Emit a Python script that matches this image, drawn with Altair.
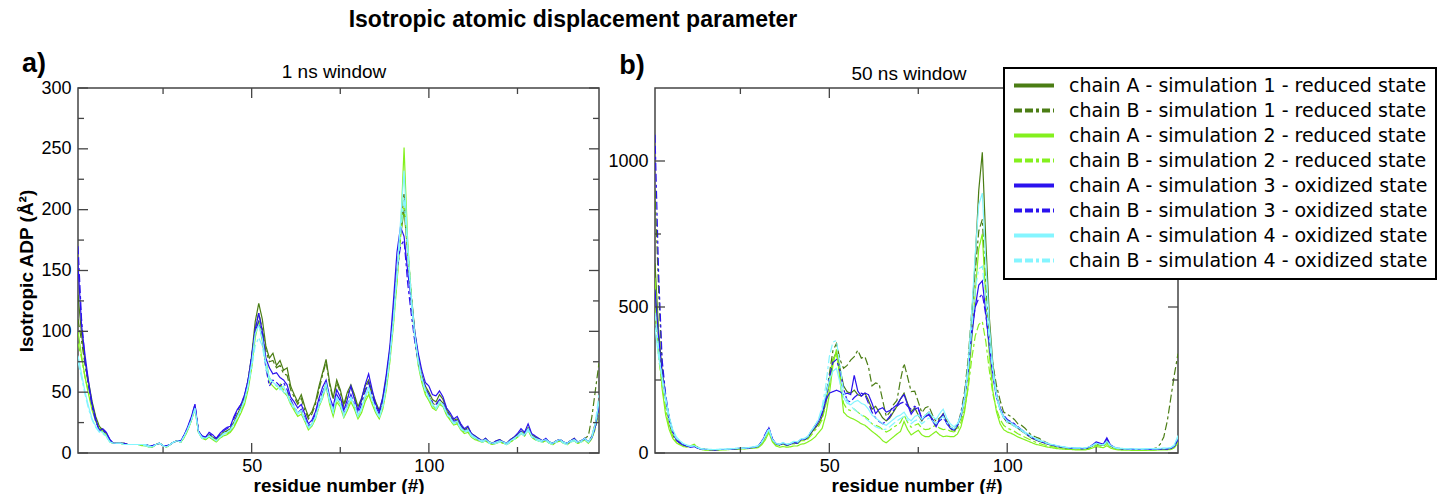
import altair as alt
import pandas as pd

residues = list(range(1, 149))
series_names = [
    "chain A - simulation 1 - reduced state",
    "chain B - simulation 1 - reduced state",
    "chain A - simulation 2 - reduced state",
    "chain B - simulation 2 - reduced state",
    "chain A - simulation 3 - oxidized state",
    "chain B - simulation 3 - oxidized state",
    "chain A - simulation 4 - oxidized state",
    "chain B - simulation 4 - oxidized state",
]
colors = ["#4b7d14", "#4b7d14", "#84f01e", "#84f01e", "#2b12ee", "#2b12ee", "#85f5ff", "#85f5ff"]
dash_solid = [1, 0]
dash_b = [8, 3, 8, 3, 3, 3]
dashes = [dash_solid, dash_b, dash_solid, dash_b, dash_solid, dash_b, dash_solid, dash_b]

# ---------------- panel a : 1 ns window ----------------
a_s1A = [130, 98, 75, 58, 42, 30, 22, 19, 16, 10,
         8, 8, 8, 8, 7, 7, 7, 7, 7, 7,
         6, 5, 7, 8, 6, 5, 7, 9, 10, 9,
         14, 20, 28, 38, 18, 13, 12, 15, 13, 11,
         14, 17, 18, 20, 25, 32, 38, 46, 60, 80,
         108, 123, 110, 88, 78, 82, 72, 76, 68, 70,
         55, 48, 42, 48, 38, 30, 34, 42, 55, 66,
         77, 58, 45, 60, 52, 40, 50, 56, 48, 38,
         45, 55, 60, 50, 42, 35, 45, 62, 85, 115,
         150, 178, 200, 165, 130, 100, 78, 64, 55, 50,
         44, 42, 48, 44, 36, 31, 27, 28, 23, 19,
         21, 16, 14, 12, 10, 12, 9, 8, 10, 11,
         9, 8, 11, 13, 15, 18, 16, 21, 15, 13,
         12, 10, 11, 9, 8, 10, 11, 9, 8, 10,
         12, 9, 10, 12, 9, 14, 25, 40]
a_s1B = [110, 92, 72, 55, 40, 28, 21, 19, 15, 10,
         8, 8, 8, 8, 7, 7, 7, 7, 7, 7,
         6, 5, 7, 8, 6, 5, 7, 9, 10, 9,
         14, 20, 27, 37, 17, 13, 12, 14, 12, 10,
         13, 16, 18, 20, 25, 31, 37, 45, 58, 78,
         102, 115, 102, 84, 75, 76, 70, 72, 65, 64,
         52, 46, 40, 45, 35, 28, 32, 40, 52, 64,
         75, 56, 44, 58, 50, 38, 48, 54, 46, 36,
         43, 52, 58, 48, 40, 33, 43, 60, 82, 112,
         148, 182, 214, 170, 132, 100, 76, 62, 53, 47,
         41, 39, 44, 41, 34, 29, 25, 26, 21, 18,
         19, 15, 13, 11, 10, 11, 9, 8, 9, 10,
         9, 8, 10, 12, 14, 17, 15, 20, 14, 12,
         11, 10, 11, 9, 8, 10, 11, 9, 8, 10,
         11, 9, 10, 12, 14, 30, 52, 74]
a_s2A = [100, 80, 62, 48, 35, 26, 20, 17, 14, 9,
         8, 8, 8, 7, 7, 7, 7, 7, 6, 6,
         5, 5, 7, 8, 6, 5, 7, 9, 10, 9,
         13, 19, 27, 36, 17, 12, 11, 13, 11, 9,
         12, 14, 15, 17, 21, 27, 33, 40, 52, 70,
         95, 108, 92, 72, 58, 55, 52, 55, 50, 47,
         40, 35, 30, 32, 26, 19, 22, 28, 38, 45,
         55, 40, 30, 42, 38, 29, 35, 42, 36, 28,
         33, 42, 48, 40, 33, 28, 36, 52, 75, 105,
         140, 180, 251, 175, 128, 95, 72, 58, 48, 43,
         37, 35, 40, 38, 31, 27, 23, 24, 19, 16,
         17, 13, 11, 10, 9, 10, 8, 7, 8, 9,
         8, 7, 9, 11, 13, 16, 14, 19, 13, 11,
         10, 9, 10, 8, 7, 9, 10, 8, 7, 9,
         10, 8, 9, 11, 8, 12, 22, 38]
a_s2B = [90, 78, 62, 50, 37, 27, 20, 18, 15, 9,
         8, 8, 8, 7, 7, 7, 7, 7, 6, 6,
         5, 5, 7, 8, 6, 5, 7, 9, 10, 9,
         13, 19, 27, 37, 17, 12, 11, 14, 12, 10,
         13, 15, 16, 18, 22, 28, 35, 42, 55, 72,
         98, 110, 96, 76, 62, 58, 55, 57, 52, 50,
         42, 37, 32, 34, 28, 21, 24, 30, 40, 48,
         58, 43, 33, 45, 40, 31, 38, 45, 38, 30,
         36, 45, 50, 42, 35, 30, 38, 55, 78, 108,
         142, 178, 205, 168, 128, 96, 74, 60, 50, 45,
         39, 36, 41, 39, 32, 28, 24, 25, 20, 17,
         18, 14, 12, 11, 9, 10, 8, 7, 8, 9,
         8, 7, 9, 11, 13, 16, 14, 19, 13, 11,
         10, 9, 10, 8, 7, 9, 10, 8, 7, 9,
         10, 8, 9, 11, 8, 12, 20, 34]
a_s3A = [155, 105, 80, 58, 40, 28, 18, 20, 17, 11,
         8, 8, 8, 8, 7, 7, 7, 7, 7, 7,
         6, 6, 7, 8, 6, 6, 7, 9, 10, 10,
         15, 22, 30, 40, 18, 14, 13, 17, 15, 12,
         16, 19, 21, 22, 30, 36, 40, 48, 60, 78,
         102, 115, 100, 78, 70, 65, 66, 62, 60, 56,
         46, 42, 37, 40, 32, 24, 27, 34, 45, 54,
         60, 46, 38, 52, 46, 35, 44, 55, 44, 35,
         44, 56, 65, 52, 40, 34, 46, 65, 88, 125,
         165, 186, 178, 150, 125, 100, 82, 68, 58, 55,
         48, 47, 51, 46, 37, 33, 28, 30, 24, 20,
         22, 16, 14, 12, 10, 12, 9, 8, 10, 11,
         9, 8, 11, 13, 16, 20, 17, 24, 16, 14,
         12, 10, 12, 9, 8, 10, 11, 9, 8, 10,
         12, 9, 10, 12, 9, 13, 22, 40]
a_s3B = [170, 110, 75, 55, 38, 26, 19, 19, 16, 11,
         8, 8, 8, 8, 7, 7, 7, 7, 7, 7,
         6, 6, 7, 8, 6, 6, 7, 9, 10, 10,
         15, 21, 29, 40, 18, 14, 13, 16, 14, 12,
         15, 18, 20, 22, 28, 35, 40, 47, 60, 80,
         100, 108, 95, 70, 55, 60, 58, 55, 58, 52,
         44, 38, 33, 36, 29, 22, 25, 32, 42, 50,
         57, 44, 35, 48, 43, 32, 40, 48, 40, 32,
         40, 50, 58, 47, 38, 32, 42, 60, 82, 115,
         150, 170, 175, 140, 115, 92, 75, 63, 54, 48,
         42, 40, 44, 41, 34, 30, 26, 27, 22, 18,
         20, 15, 13, 11, 10, 11, 9, 8, 9, 10,
         9, 8, 10, 12, 14, 18, 15, 21, 14, 12,
         11, 10, 11, 9, 8, 10, 11, 9, 8, 10,
         11, 9, 10, 12, 9, 13, 22, 38]
a_s4A = [80, 65, 50, 38, 28, 22, 18, 17, 14, 9,
         8, 8, 8, 7, 7, 7, 7, 7, 7, 7,
         6, 5, 7, 8, 6, 5, 7, 9, 10, 9,
         14, 20, 27, 37, 17, 13, 12, 14, 12, 10,
         13, 16, 17, 19, 24, 30, 36, 44, 56, 74,
         98, 105, 94, 74, 62, 58, 56, 52, 55, 48,
         42, 38, 33, 35, 28, 21, 24, 30, 40, 48,
         57, 44, 34, 46, 41, 31, 39, 46, 39, 31,
         37, 47, 54, 44, 36, 30, 39, 56, 80, 110,
         148, 190, 232, 172, 130, 98, 76, 62, 52, 46,
         40, 37, 42, 40, 33, 29, 25, 26, 21, 18,
         19, 15, 13, 11, 10, 11, 9, 8, 9, 10,
         9, 8, 10, 12, 14, 17, 15, 20, 14, 12,
         11, 10, 11, 9, 8, 10, 11, 9, 8, 10,
         11, 9, 10, 12, 9, 13, 24, 42]
a_s4B = [75, 62, 48, 36, 27, 21, 17, 16, 13, 9,
         8, 8, 8, 7, 7, 7, 7, 7, 6, 6,
         5, 5, 7, 8, 6, 5, 7, 9, 10, 9,
         14, 20, 27, 36, 17, 12, 12, 14, 12, 10,
         13, 15, 17, 19, 24, 30, 36, 43, 55, 70,
         88, 95, 88, 70, 60, 58, 55, 54, 50, 48,
         41, 36, 32, 34, 27, 20, 23, 29, 38, 46,
         55, 42, 33, 45, 40, 30, 38, 45, 38, 30,
         36, 46, 52, 43, 35, 29, 38, 55, 78, 108,
         145, 180, 210, 165, 125, 96, 74, 60, 51, 45,
         39, 36, 41, 39, 32, 28, 24, 25, 20, 17,
         18, 14, 12, 11, 9, 10, 8, 7, 8, 9,
         8, 7, 9, 11, 13, 16, 14, 19, 13, 11,
         10, 9, 10, 8, 7, 9, 10, 8, 7, 9,
         10, 8, 9, 11, 9, 14, 26, 48]

# ---------------- panel b : 50 ns window ----------------
b_s1A = [650, 420, 280, 190, 120, 75, 48, 35, 28, 24,
         22, 24, 18, 14, 12, 12, 11, 11, 12, 12,
         12, 13, 14, 14, 15, 16, 16, 18, 19, 22,
         35, 55, 80, 45, 30, 28, 32, 27, 30, 35,
         33, 45, 45, 52, 70, 85, 100, 125, 170, 240,
         320, 345, 290, 230, 210, 205, 215, 200, 195, 205,
         180, 150, 160, 140, 120, 110, 120, 140, 160, 185,
         205, 170, 140, 155, 130, 110, 130, 140, 115, 95,
         115, 135, 105, 90, 80, 95, 120, 180, 290, 460,
         660, 900, 1030, 720, 460, 300, 200, 150, 120, 105,
         100, 92, 85, 75, 68, 58, 50, 45, 40, 36,
         32, 28, 25, 22, 20, 18, 17, 16, 15, 15,
         14, 15, 18, 25, 33, 30, 27, 40, 25, 18,
         15, 14, 13, 13, 12, 12, 11, 11, 12, 12,
         11, 12, 13, 14, 13, 16, 25, 50]
b_s1B = [900, 560, 300, 180, 100, 60, 42, 35, 30, 26,
         24, 26, 20, 15, 13, 12, 12, 12, 12, 12,
         12, 13, 14, 15, 16, 17, 17, 18, 20, 23,
         36, 58, 82, 46, 31, 29, 34, 28, 31, 37,
         35, 48, 48, 56, 75, 95, 110, 140, 190, 270,
         350, 375, 320, 290, 300, 318, 330, 352, 325, 330,
         295, 230, 240, 236, 180, 125, 140, 165, 180, 250,
         307, 260, 210, 212, 175, 138, 155, 160, 130, 108,
         120, 130, 110, 85, 72, 90, 140, 210, 320, 480,
         620, 760, 800, 560, 400, 300, 230, 180, 140, 133,
         125, 115, 100, 95, 85, 70, 60, 55, 50, 42,
         36, 30, 26, 23, 20, 18, 17, 16, 15, 15,
         14, 15, 18, 24, 32, 28, 26, 38, 24, 18,
         15, 14, 13, 13, 12, 12, 11, 11, 12, 13,
         14, 18, 30, 55, 110, 190, 270, 340]
b_s2A = [600, 380, 220, 130, 80, 50, 35, 28, 22, 20,
         25, 30, 18, 12, 10, 10, 10, 10, 10, 11,
         11, 12, 12, 13, 14, 14, 15, 16, 17, 18,
         28, 45, 70, 38, 24, 20, 22, 20, 21, 24,
         24, 30, 32, 38, 45, 55, 70, 85, 130, 200,
         300, 355, 250, 140, 127, 120, 115, 108, 100, 95,
         85, 74, 65, 55, 42, 35, 45, 55, 65, 74,
         108, 80, 62, 70, 78, 62, 56, 56, 65, 74,
         62, 56, 58, 56, 56, 65, 90, 140, 230, 380,
         550, 700, 750, 520, 330, 210, 140, 100, 80, 72,
         68, 62, 55, 50, 45, 40, 35, 30, 27, 24,
         21, 19, 17, 15, 14, 13, 12, 12, 11, 11,
         11, 11, 13, 17, 22, 20, 18, 25, 17, 13,
         11, 10, 10, 10, 9, 9, 9, 9, 9, 10,
         10, 10, 11, 11, 11, 12, 18, 35]
b_s2B = [500, 330, 230, 150, 90, 60, 40, 32, 26, 22,
         22, 26, 17, 13, 11, 11, 11, 11, 11, 12,
         12, 12, 13, 14, 15, 15, 16, 17, 18, 20,
         32, 52, 76, 42, 28, 26, 30, 25, 28, 32,
         30, 42, 42, 48, 62, 78, 92, 115, 165, 240,
         320, 340, 270, 170, 150, 145, 150, 140, 130, 125,
         115, 100, 95, 90, 80, 72, 78, 88, 95, 105,
         130, 105, 88, 95, 100, 85, 80, 82, 90, 95,
         85, 80, 82, 75, 72, 80, 105, 150, 220, 320,
         400, 440, 450, 380, 280, 200, 150, 115, 95, 85,
         80, 74, 66, 60, 54, 48, 42, 37, 33, 29,
         26, 23, 21, 19, 17, 16, 15, 14, 13, 13,
         13, 13, 15, 20, 27, 24, 22, 32, 21, 16,
         13, 12, 12, 11, 11, 10, 10, 10, 11, 11,
         11, 11, 12, 12, 12, 14, 20, 40]
b_s3A = [560, 400, 270, 185, 115, 72, 45, 34, 27, 23,
         20, 22, 16, 13, 12, 12, 11, 11, 12, 12,
         12, 13, 14, 15, 16, 16, 17, 18, 20, 23,
         38, 62, 86, 47, 32, 28, 33, 27, 30, 36,
         34, 46, 47, 55, 75, 90, 110, 135, 180, 205,
         210, 215, 210, 200, 205, 200, 266, 212, 195, 205,
         200, 170, 135, 150, 155, 140, 145, 155, 165, 185,
         200, 165, 133, 150, 155, 114, 125, 133, 110, 90,
         115, 133, 100, 85, 78, 95, 130, 190, 280, 400,
         500, 575, 590, 480, 360, 260, 190, 150, 125, 110,
         105, 98, 88, 78, 70, 60, 52, 46, 41, 37,
         33, 29, 26, 23, 21, 19, 18, 17, 16, 16,
         15, 16, 20, 28, 38, 34, 30, 52, 28, 20,
         16, 15, 14, 13, 13, 12, 12, 12, 12, 13,
         12, 13, 14, 14, 14, 16, 24, 45]
b_s3B = [1090, 620, 320, 200, 120, 70, 45, 35, 28, 24,
         21, 23, 17, 14, 12, 12, 11, 11, 12, 12,
         12, 13, 14, 15, 16, 16, 17, 18, 20, 24,
         40, 65, 88, 48, 33, 29, 34, 28, 31, 36,
         35, 47, 48, 56, 76, 92, 112, 140, 190, 260,
         310, 320, 280, 220, 180, 175, 190, 200, 205, 200,
         170, 140, 120, 108, 100, 110, 125, 145, 160, 170,
         175, 160, 150, 160, 150, 120, 125, 130, 115, 100,
         110, 120, 105, 90, 80, 95, 130, 190, 290, 420,
         500, 530, 545, 470, 370, 270, 200, 155, 130, 115,
         108, 100, 90, 80, 72, 62, 54, 48, 43, 38,
         34, 30, 27, 24, 22, 20, 18, 17, 16, 16,
         15, 16, 20, 26, 36, 32, 29, 48, 27, 19,
         16, 15, 14, 13, 13, 12, 12, 12, 12, 13,
         12, 13, 14, 14, 14, 16, 24, 48]
b_s4A = [430, 330, 260, 190, 125, 80, 55, 42, 32, 27,
         24, 25, 19, 15, 13, 13, 12, 12, 13, 13,
         13, 14, 15, 16, 17, 17, 18, 20, 22, 25,
         36, 58, 80, 46, 32, 30, 36, 30, 33, 40,
         38, 48, 50, 58, 78, 95, 115, 150, 200, 250,
         280, 290, 240, 190, 170, 165, 175, 180, 170, 165,
         150, 130, 120, 110, 100, 95, 105, 115, 125, 130,
         140, 120, 110, 125, 130, 115, 130, 140, 125, 115,
         135, 150, 120, 100, 90, 100, 130, 190, 300, 480,
         680, 850, 890, 650, 430, 290, 200, 150, 125, 110,
         104, 96, 88, 80, 72, 64, 56, 50, 45, 40,
         35, 31, 28, 25, 23, 21, 19, 18, 18, 18,
         17, 18, 21, 26, 34, 30, 28, 40, 26, 20,
         17, 16, 15, 15, 14, 14, 14, 14, 15, 15,
         15, 15, 16, 17, 17, 19, 28, 60]
b_s4B = [480, 360, 250, 175, 110, 70, 50, 40, 30, 26,
         23, 24, 18, 14, 13, 12, 12, 12, 12, 13,
         13, 14, 15, 16, 17, 17, 18, 19, 21, 24,
         38, 60, 85, 47, 32, 30, 35, 29, 32, 38,
         36, 48, 49, 57, 77, 95, 118, 160, 230, 330,
         380, 385, 300, 210, 180, 160, 150, 140, 130, 120,
         110, 100, 90, 85, 80, 82, 90, 100, 110, 118,
         125, 112, 100, 110, 115, 100, 110, 120, 110, 100,
         115, 125, 105, 90, 82, 95, 125, 180, 280, 420,
         560, 630, 640, 520, 380, 270, 190, 145, 120, 105,
         100, 92, 84, 76, 68, 60, 53, 47, 42, 38,
         34, 30, 27, 24, 22, 20, 18, 17, 17, 17,
         16, 17, 20, 25, 33, 29, 27, 38, 25, 19,
         16, 15, 14, 14, 13, 13, 13, 13, 14, 14,
         14, 14, 15, 16, 16, 18, 26, 55]

# tick values
x_major = [50, 100]
x_minor = [25, 75, 125]
a_y_major = [0, 50, 100, 150, 200, 250, 300]
a_y_minor = [25, 75, 125, 175, 225, 275]
b_y_major = [0, 500, 1000]
b_y_minor = [250, 750]

FONT = "Liberation Sans"
TICK = "#444444"
W_A, W_B, H = 521, 523, 365


def long_df(lists):
    rows = []
    for name, vals in zip(series_names, lists):
        for r, v in zip(residues, vals):
            rows.append({"residue": r, "adp": v, "series": name})
    return pd.DataFrame(rows)


def text_layer(txt, x, y, size, weight="normal", font=FONT):
    return alt.Chart(pd.DataFrame({"t": [txt]})).mark_text(
        font=font, fontSize=size, fontWeight=weight, align="center",
        baseline="middle", color="black"
    ).encode(text="t:N", x=alt.value(x), y=alt.value(y))


def panel(df, W, ymax, ymaj, ymin, show_legend, ytitle, extra_layers):
    xs = alt.Scale(domain=[1, 148], nice=False, zero=False)
    ys = alt.Scale(domain=[0, ymax], nice=False, zero=True)
    legend = None
    if show_legend:
        legend = alt.Legend(
            title=None, orient="none", legendX=349, legendY=-20,
            symbolType="stroke", symbolSize=1600, symbolStrokeWidth=4,
            labelFont="DejaVu Sans", labelFontSize=19, labelColor="black",
            labelOffset=13, rowPadding=5, clipHeight=19, padding=8,
            fillColor="white", strokeColor="black", labelLimit=500,
        )
    xaxis = alt.Axis(values=x_major, ticks=False, domain=False, grid=False,
                     labelFont=FONT, labelFontSize=18, labelColor="black",
                     labelPadding=4, title="residue number (#)", titleFont=FONT,
                     titleFontSize=19, titleFontWeight="bold", titleColor="black",
                     titlePadding=1, labelFlush=False, format="d")
    yaxis = alt.Axis(values=ymaj, ticks=False, domain=False, grid=False,
                     labelFont=FONT, labelFontSize=18, labelColor="black",
                     labelPadding=7, title=ytitle if ytitle else None, titleFont=FONT,
                     titleFontSize=19, titleFontWeight="bold", titleColor="black",
                     titlePadding=4, labelFlush=False, format="d")
    lines = alt.Chart(df).mark_line(strokeWidth=1.2, clip=True).encode(
        x=alt.X("residue:Q", scale=xs, axis=xaxis),
        y=alt.Y("adp:Q", scale=ys, axis=yaxis),
        color=alt.Color("series:N", scale=alt.Scale(domain=series_names, range=colors),
                        legend=legend, sort=series_names),
        strokeDash=alt.StrokeDash("series:N", scale=alt.Scale(domain=series_names, range=dashes),
                                  legend=legend, sort=series_names),
        order=alt.Order("residue:Q"),
    )
    layers = [lines]
    for vals, L in ((ymaj, 10), (ymin, 6)):
        d = pd.DataFrame({"adp": vals})
        layers.append(alt.Chart(d).mark_rule(color=TICK, strokeWidth=1.3).encode(
            y=alt.Y("adp:Q", scale=ys), x=alt.value(0), x2=alt.value(L)))
        layers.append(alt.Chart(d).mark_rule(color=TICK, strokeWidth=1.3).encode(
            y=alt.Y("adp:Q", scale=ys), x=alt.value(W - L), x2=alt.value(W)))
    for vals, L in ((x_major, 10), (x_minor, 6)):
        d = pd.DataFrame({"residue": vals})
        layers.append(alt.Chart(d).mark_rule(color=TICK, strokeWidth=1.3).encode(
            x=alt.X("residue:Q", scale=xs), y=alt.value(H - L), y2=alt.value(H)))
        layers.append(alt.Chart(d).mark_rule(color=TICK, strokeWidth=1.3).encode(
            x=alt.X("residue:Q", scale=xs), y=alt.value(0), y2=alt.value(L)))
    layers += extra_layers
    return alt.layer(*layers).properties(width=W, height=H)


df_a = long_df([a_s1A, a_s1B, a_s2A, a_s2B, a_s3A, a_s3B, a_s4A, a_s4B])
df_b = long_df([b_s1A, b_s1B, b_s2A, b_s2B, b_s3A, b_s3B, b_s4A, b_s4B])

extra_a = [
    text_layer("Isotropic atomic displacement parameter", 495, -68, 23, "bold"),
    text_layer("a)", -44, -24, 27, "bold"),
    text_layer("1 ns window", 256, -16, 19),
]
extra_b = [
    text_layer("b)", -23, -22, 27, "bold"),
    text_layer("50 ns window", 254, -14, 19),
]

pa = panel(df_a, W_A, 300, a_y_major, a_y_minor, False, "Isotropic ADP (Å²)", extra_a)
pb = panel(df_b, W_B, 1250, b_y_major, b_y_minor, True, None, extra_b)

chart = alt.hconcat(pa, pb, spacing=56, bounds="flush").resolve_scale(
    color="independent", strokeDash="independent"
).properties(
    padding={"left": 17, "top": 8, "right": 5, "bottom": 0},
    background="white",
).configure_view(
    stroke="#444444", strokeWidth=1.5
).configure_legend(strokeWidth=2)

chart.save("out.html", embed_options={"renderer": "svg", "actions": False})
